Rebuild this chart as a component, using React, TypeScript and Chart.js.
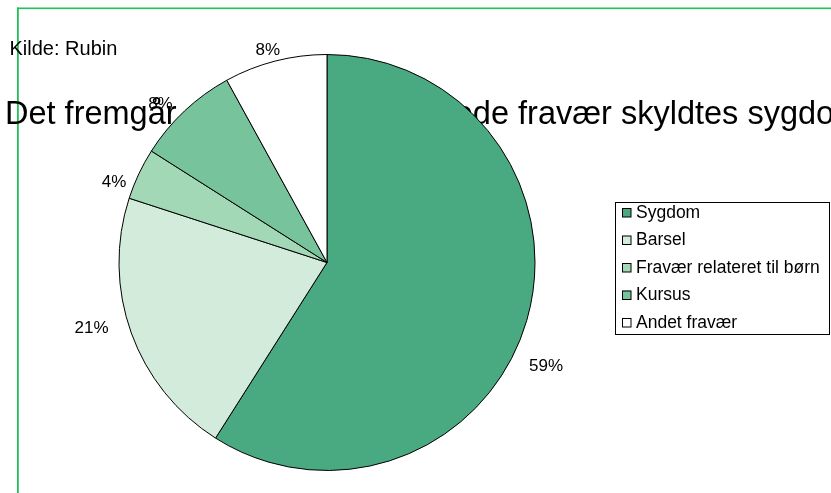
import { useEffect, useRef } from "react";
import { Chart, registerables } from "chart.js";

Chart.register(...registerables);

// ---- data ----
const categories = ["Sygdom", "Barsel", "Fravær relateret til børn", "Kursus", "Andet fravær"];
const shares = [59, 21, 4, 8, 8];
const valueLabels = ["59%", "21%", "4%", "8%", "8%"];
const sliceColors = ["#49a980", "#d2ebdb", "#a3d8b6", "#77c39b", "#ffffff"];
const sourceText = "Kilde: Rubin";
const titleText = "Det fremgår at 59% af det samlede fravær skyldtes sygdom";

const FONT = '"Liberation Sans", Arial, Helvetica, sans-serif';

// label placement tweaks (angle shift in degrees, gap from rim in px)
const labelAngleShift = [9, 4.5, -4.4, -3.1, -1.1];
const labelGap = [16, 18, 6, 9, 4];

const backdropPlugin = {
  id: "backdrop",
  beforeDraw(chart: any) {
    const ctx = chart.ctx;
    ctx.save();
    ctx.fillStyle = "#ffffff";
    ctx.fillRect(0, 0, chart.width, chart.height);
    // green frame
    ctx.fillStyle = "#1fc35a";
    ctx.fillRect(17, 7.5, chart.width - 17, 1.6);
    ctx.fillRect(17, 7.5, 1.8, chart.height - 7.5);
    // source + title (behind pie)
    ctx.fillStyle = "#000000";
    ctx.textBaseline = "alphabetic";
    ctx.textAlign = "left";
    ctx.font = `20px ${FONT}`;
    ctx.fillText(sourceText, 9.5, 55);
    ctx.font = `32.5px ${FONT}`;
    ctx.fillText(titleText, 5, 124);
    ctx.restore();
  },
};

const labelPlugin = {
  id: "pctLabels",
  afterDatasetsDraw(chart: any) {
    const ctx = chart.ctx;
    const meta = chart.getDatasetMeta(0);
    ctx.save();
    ctx.font = `17px ${FONT}`;
    ctx.fillStyle = "#000000";
    ctx.textAlign = "center";
    ctx.textBaseline = "middle";
    meta.data.forEach((arc: any, i: number) => {
      const p = arc.getProps(["x", "y", "startAngle", "endAngle", "outerRadius"], true);
      const mid = (p.startAngle + p.endAngle) / 2 + (labelAngleShift[i] * Math.PI) / 180;
      const cx = Math.cos(mid);
      const cy = Math.sin(mid);
      const text = valueLabels[i];
      const w = ctx.measureText(text).width;
      const h = 13;
      const d = p.outerRadius + labelGap[i] + Math.abs(cx) * w / 2 + Math.abs(cy) * h / 2;
      ctx.fillText(text, p.x + cx * d, p.y + cy * d + 1);
    });
    ctx.restore();
  },
};

const legendPlugin = {
  id: "boxLegend",
  afterDraw(chart: any) {
    const ctx = chart.ctx;
    const bx = 615.5, by = 202.5, bw = 214, bh = 132;
    ctx.save();
    ctx.fillStyle = "#ffffff";
    ctx.fillRect(bx, by, bw, bh);
    ctx.strokeStyle = "#000000";
    ctx.lineWidth = 1;
    ctx.strokeRect(bx, by, bw, bh);
    ctx.font = `17.5px ${FONT}`;
    ctx.textAlign = "left";
    ctx.textBaseline = "middle";
    categories.forEach((name, i) => {
      const y = 208 + i * 27.5;
      ctx.fillStyle = sliceColors[i];
      ctx.fillRect(622, y, 9, 9);
      ctx.strokeStyle = "#000000";
      ctx.strokeRect(622.5, y + 0.5, 8.5, 8.5);
      ctx.fillStyle = "#000000";
      ctx.fillText(name, 636, y + 5);
    });
    ctx.restore();
  },
};

export default function App() {
  const ref = useRef<HTMLCanvasElement | null>(null);
  useEffect(() => {
    if (!ref.current) return;
    const chart = new Chart(ref.current, {
      type: "pie",
      data: {
        labels: categories,
        datasets: [
          {
            data: shares,
            backgroundColor: sliceColors,
            borderColor: "#000000",
            borderWidth: 1,
          },
        ],
      },
      options: {
        responsive: false,
        animation: false,
        devicePixelRatio: 1,
        layout: { padding: { left: 118.5, right: 295.5, top: 54, bottom: 22 } },
        plugins: {
          legend: { display: false },
          title: { display: false },
          tooltip: { enabled: false },
        },
      } as any,
      plugins: [backdropPlugin, labelPlugin, legendPlugin],
    });
    return () => chart.destroy();
  }, []);
  return (
    <div style={{ position: "absolute", left: 0, top: 0, width: 831, height: 493 }}>
      <canvas ref={ref} width={831} height={493} style={{ width: 831, height: 493, display: "block" }} />
    </div>
  );
}
